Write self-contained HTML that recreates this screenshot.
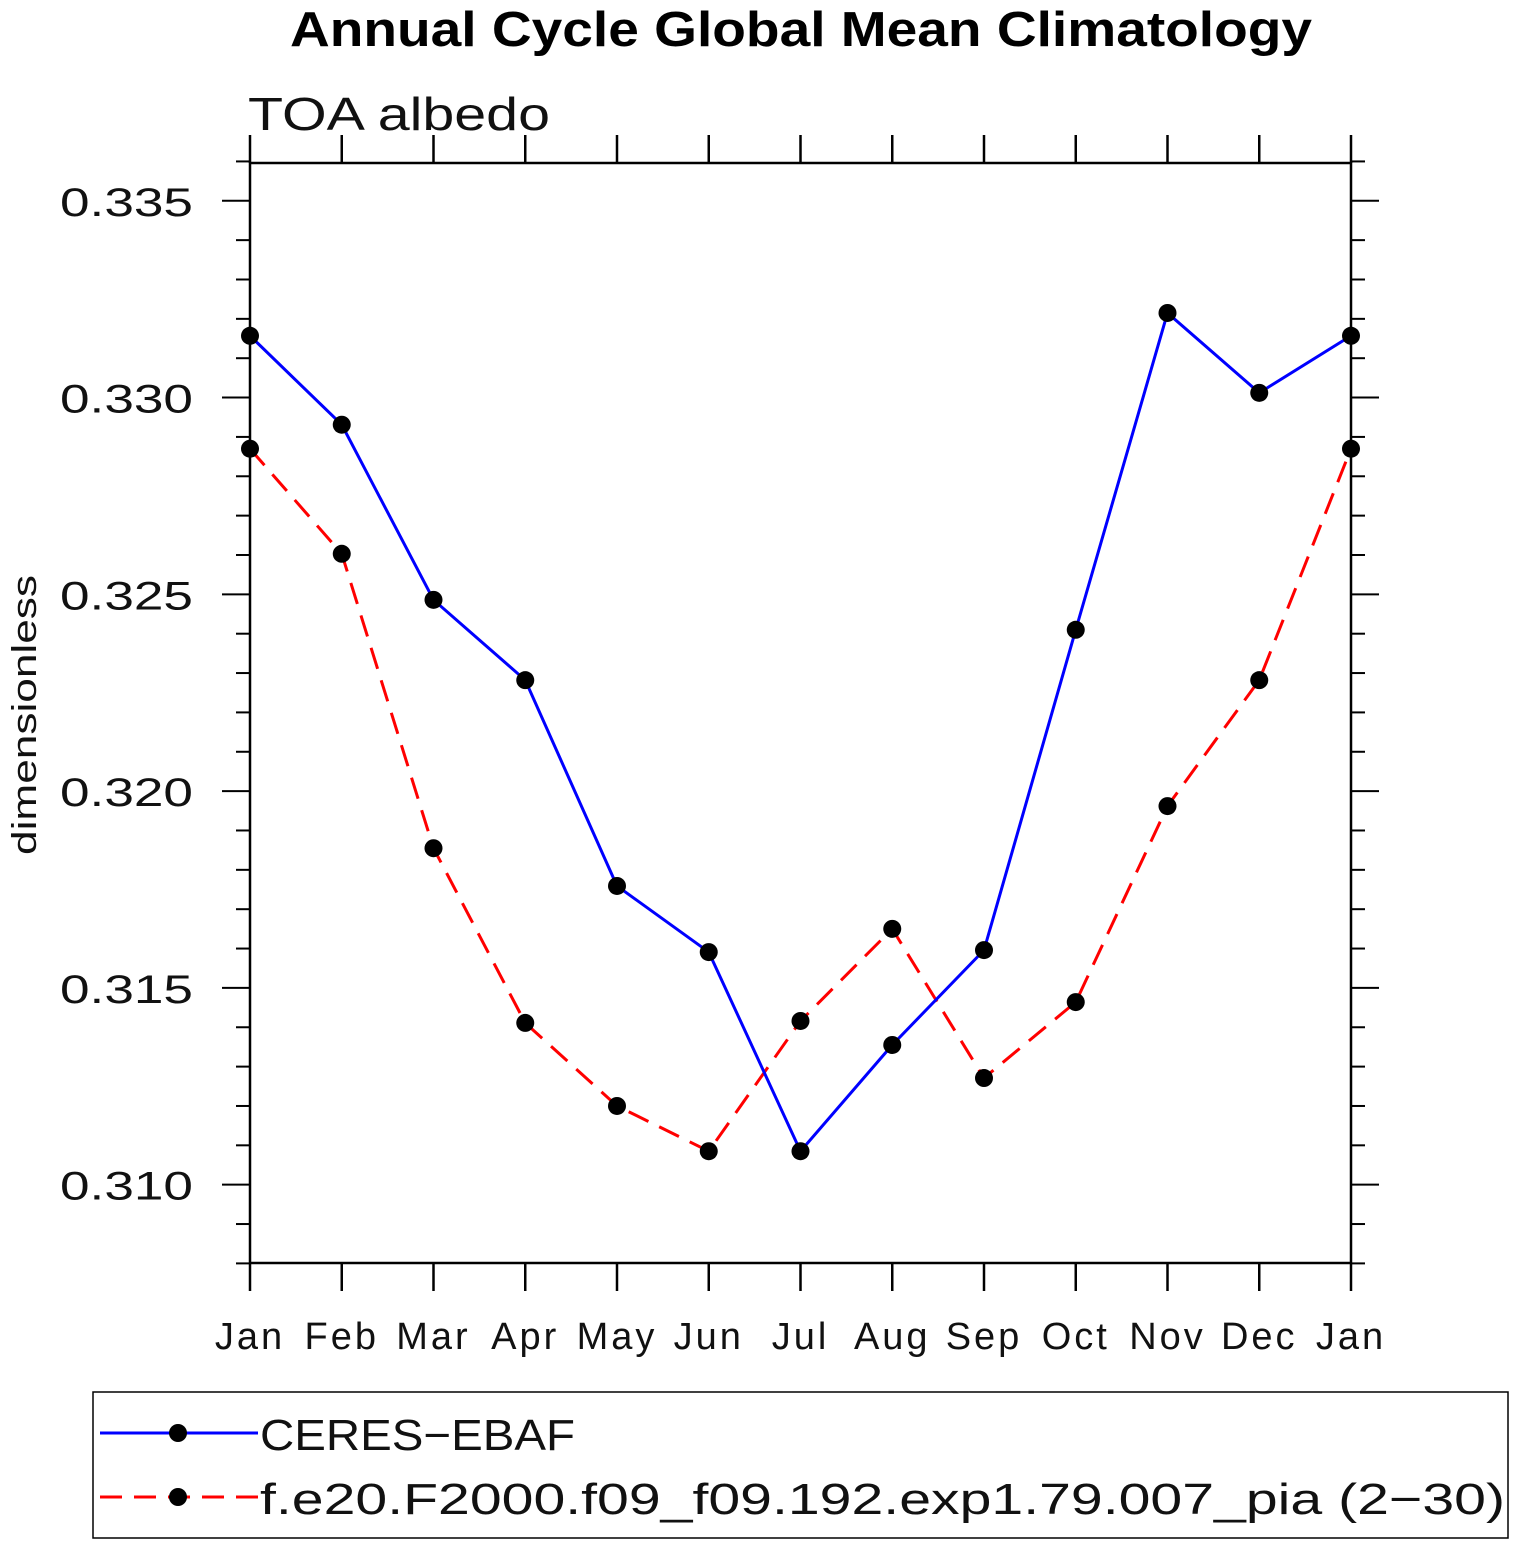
<!DOCTYPE html>
<html><head><meta charset="utf-8"><style>
body{margin:0;background:#fff}
svg text{font-family:"Liberation Sans",sans-serif}
</style></head><body>
<svg id="c" width="1515" height="1545" xmlns="http://www.w3.org/2000/svg">
<text x="290" y="46" font-size="49" font-weight="bold" textLength="1022" lengthAdjust="spacingAndGlyphs">Annual Cycle Global Mean Climatology</text>
<text x="248" y="130" font-size="46" fill="#111" textLength="302" lengthAdjust="spacingAndGlyphs">TOA  albedo</text>
<text transform="translate(36,855) rotate(-90)" font-size="34" fill="#111" textLength="280" lengthAdjust="spacingAndGlyphs">dimensionless</text>
<g id="ax"></g>
<g id="series"></g>
<rect x="93" y="1392" width="1415" height="146" fill="none" stroke="#000" stroke-width="1.5"/>
<g>
<line x1="100" y1="1433" x2="258" y2="1433" stroke="#0000ff" stroke-width="3"/>
<circle cx="178" cy="1433" r="9"/>
<text x="260" y="1450" font-size="44" fill="#111" textLength="315" lengthAdjust="spacingAndGlyphs">CERES−EBAF</text></g>
<g>
<line x1="100" y1="1497" x2="258" y2="1497" stroke="#ff0000" stroke-width="3" stroke-dasharray="22,12"/>
<circle cx="178" cy="1497" r="9"/>
<text x="260" y="1514" font-size="44" fill="#111" textLength="1245" lengthAdjust="spacingAndGlyphs">f.e20.F2000.f09_f09.192.exp1.79.007_pia (2−30)</text></g>
</svg>
<script>
const months=["Jan","Feb","Mar","Apr","May","Jun","Jul","Aug","Sep","Oct","Nov","Dec","Jan"];
const ceres=[0.33157,0.32931,0.32486,0.32282,0.31759,0.31591,0.31085,0.31355,0.31596,0.32410,0.33215,0.33012,0.33157];
const model=[0.32870,0.32603,0.31855,0.31411,0.31200,0.31085,0.31416,0.31650,0.31271,0.31464,0.31962,0.32282,0.32870];
const yTicks=[0.310,0.315,0.320,0.325,0.330,0.335];
const yTickLabels=["0.310","0.315","0.320","0.325","0.330","0.335"];
const L=250,R=1351,T=163,B=1263,YMIN=0.30801,YMAX=0.33596;
const xs=i=>L+i*(R-L)/(months.length-1);
const ys=v=>B-(v-YMIN)/(YMAX-YMIN)*(B-T);
const NS="http://www.w3.org/2000/svg";
function mk(t,a,p){const e=document.createElementNS(NS,t);for(const k in a)e.setAttribute(k,a[k]);p.appendChild(e);return e;}
const ax=document.getElementById('ax');
const fr=mk('rect',{x:L,y:T,width:R-L,height:B-T,fill:'none',stroke:'#000','stroke-width':2.5},ax);


months.forEach((m,i)=>{const x=xs(i);
mk('line',{x1:x,y1:B,x2:x,y2:B+28,stroke:'#000','stroke-width':2.5},ax);
mk('line',{x1:x,y1:T,x2:x,y2:T-28,stroke:'#000','stroke-width':2.5},ax);
const t=mk('text',{x:x,y:B+86,'text-anchor':'middle','font-size':38,fill:'#111','letter-spacing':'3'},ax);t.textContent=m;

});
for(let k=308;k<=336;k++){const v=k/1000,y=ys(v);const major=k%5===0;const len=major?28:14;
mk('line',{x1:L,y1:y,x2:L-len,y2:y,stroke:'#000','stroke-width':2},ax);
mk('line',{x1:R,y1:y,x2:R+len,y2:y,stroke:'#000','stroke-width':2},ax);}
yTicks.forEach((v,i)=>{const t=mk('text',{x:60,y:ys(v)+15,'font-size':40,fill:'#111',textLength:133,lengthAdjust:'spacingAndGlyphs'},ax);t.textContent=yTickLabels[i];

});
const sg=document.getElementById('series');
function draw(vals,col,dash,name){const g=mk('g',{},sg);


const a={points:vals.map((v,i)=>xs(i)+','+ys(v)).join(' '),fill:'none',stroke:col,'stroke-width':3};if(dash)a['stroke-dasharray']=dash;mk('polyline',a,g);
vals.forEach((v,i)=>{const c=mk('circle',{cx:xs(i),cy:ys(v),r:9,fill:'#000'},g);

});}
draw(model,'#ff0000','22,12','model-series');
draw(ceres,'#0000ff',null,'ceres-series');
</script>
</body></html>
